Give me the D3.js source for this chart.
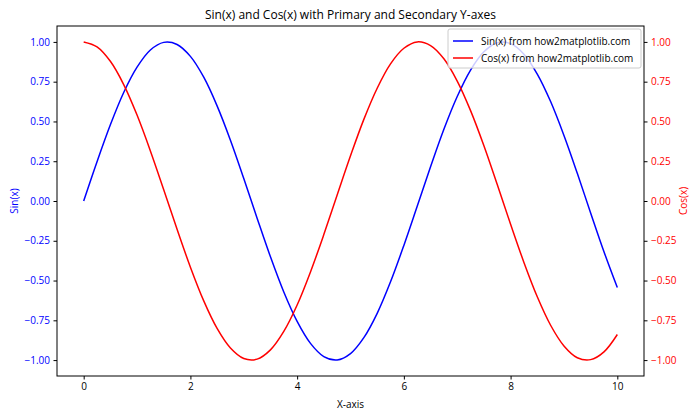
<!DOCTYPE html>
<html><head><meta charset="utf-8">
<script src="https://cdn.jsdelivr.net/npm/d3@7"></script>
<style>
body{margin:0;background:#fff;}
text{font-family:"Open Sans","Noto Sans",sans-serif;}
</style></head>
<body><svg id="c" width="700" height="420"></svg>
<script>
const xValues = d3.range(0, 41).map(i => i * 0.25);
const sinValues = [0,0.247,0.479,0.682,0.841,0.949,0.997,0.984,0.909,0.778,0.598,0.382,0.141,-0.108,-0.351,-0.572,-0.757,-0.895,-0.978,-0.999,-0.959,-0.859,-0.706,-0.508,-0.279,-0.033,0.215,0.451,0.657,0.823,0.938,0.995,0.989,0.923,0.798,0.625,0.412,0.174,-0.075,-0.319,-0.544];
const cosValues = [1,0.969,0.878,0.732,0.540,0.315,0.071,-0.178,-0.416,-0.628,-0.801,-0.924,-0.990,-0.994,-0.936,-0.820,-0.654,-0.446,-0.211,0.038,0.284,0.513,0.709,0.862,0.960,1.000,0.977,0.894,0.754,0.568,0.347,0.103,-0.146,-0.386,-0.602,-0.781,-0.911,-0.985,-0.997,-0.948,-0.839];
const xTicks = [0,2,4,6,8,10];
const yTicks = [-1,-0.75,-0.5,-0.25,0,0.25,0.5,0.75,1];
const seriesNames = ["Sin(x) from how2matplotlib.com","Cos(x) from how2matplotlib.com"];
const seriesColors = ["#0000ff","#ff0000"];

const svg = d3.select("#c");
const L=57, R=644, T=26, B=376;
const x = d3.scaleLinear().domain([-0.5,10.5]).range([L,R]);
const yL = d3.scaleLinear().domain([-1.1,1.1]).range([B,T]);
const yR = d3.scaleLinear().domain([-1.1,1.1]).range([B,T]);

const line = (ys, sc) => d3.line().x((d,i)=>x(xValues[i])).y(d=>sc(d)).curve(d3.curveCatmullRom)(ys);
svg.append("path").attr("d", line(sinValues, yL)).attr("fill","none").attr("stroke",seriesColors[0]).attr("stroke-width",1.5);
svg.append("path").attr("d", line(cosValues, yR)).attr("fill","none").attr("stroke",seriesColors[1]).attr("stroke-width",1.5);

const fmt = d3.format(".2f");
const gx = svg.append("g").attr("transform",`translate(0,${B})`).call(d3.axisBottom(x).tickValues(xTicks).tickSize(3.5).tickPadding(3.5));
const gl = svg.append("g").attr("transform",`translate(${L},0)`).call(d3.axisLeft(yL).tickValues(yTicks).tickFormat(d=>fmt(d).replace("-","\u2212")).tickSize(3.5).tickPadding(3.5));
const gr = svg.append("g").attr("transform",`translate(${R},0)`).call(d3.axisRight(yR).tickValues(yTicks).tickFormat(d=>fmt(d).replace("-","\u2212")).tickSize(3.5).tickPadding(3.5));
[gx,gl,gr].forEach(g=>{g.select(".domain").remove(); g.selectAll("text").attr("font-size",10).attr("font-family",null);});
gx.selectAll("text").attr("fill","#000"); gx.selectAll("line").attr("stroke","#000");
gl.selectAll("text").attr("fill",seriesColors[0]); gl.selectAll("line").attr("stroke","#000");
gr.selectAll("text").attr("fill",seriesColors[1]); gr.selectAll("line").attr("stroke","#000");

svg.append("rect").attr("x",L).attr("y",T).attr("width",R-L).attr("height",B-T).attr("fill","none").attr("stroke","#000").attr("stroke-width",1);

svg.append("text").attr("x",(L+R)/2).attr("y",19).attr("text-anchor","middle").attr("font-size",12).text("Sin(x) and Cos(x) with Primary and Secondary Y-axes");
svg.append("text").attr("x",(L+R)/2).attr("y",408).attr("text-anchor","middle").attr("font-size",10).text("X-axis");
svg.append("text").attr("transform",`translate(18,${(T+B)/2}) rotate(-90)`).attr("text-anchor","middle").attr("font-size",10).attr("fill",seriesColors[0]).text("Sin(x)");
svg.append("text").attr("transform",`translate(687,${(T+B)/2}) rotate(-90)`).attr("text-anchor","middle").attr("font-size",10).attr("fill",seriesColors[1]).text("Cos(x)");

const lg = svg.append("g");
lg.append("rect").attr("x",448).attr("y",29).attr("width",193).attr("height",39).attr("rx",2).attr("fill","#fff").attr("fill-opacity",0.8).attr("stroke","#ccc");
seriesNames.forEach((n,i)=>{
  const yy = 41 + i*17;
  lg.append("line").attr("x1",453).attr("x2",473).attr("y1",yy).attr("y2",yy).attr("stroke",seriesColors[i]).attr("stroke-width",1.5);
  lg.append("text").attr("x",481).attr("y",yy+3.5).attr("font-size",10).text(n);
});
</script></body></html>
